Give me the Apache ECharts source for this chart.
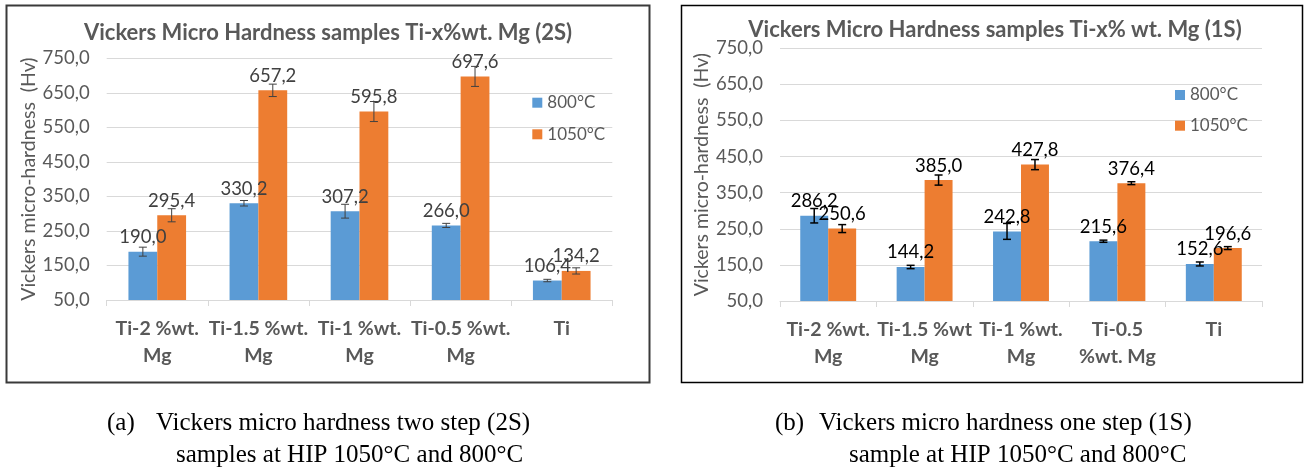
<!DOCTYPE html>
<html>
<head>
<meta charset="utf-8">
<script src="https://cdn.jsdelivr.net/npm/echarts@6/dist/echarts.min.js"></script>
<style>
  html, body { margin: 0; padding: 0; background: #fff; }
  #main { width: 1306px; height: 473px; }
</style>
</head>
<body>
<div id="main"></div>
<script>
// Vickers micro-hardness (Hv) of Ti-x%wt. Mg samples after HIP at 800 °C and 1050 °C
const categories2S = ['Ti-2 %wt.\nMg', 'Ti-1.5 %wt.\nMg', 'Ti-1 %wt.\nMg', 'Ti-0.5 %wt.\nMg', 'Ti'];
const categories1S = ['Ti-2 %wt.\nMg', 'Ti-1.5 %wt\nMg', 'Ti-1 %wt.\nMg', 'Ti-0.5\n%wt. Mg', 'Ti'];

// two step (2S)
const hv800_2S  = [190.0, 330.2, 307.2, 266.0, 106.4];
const hv1050_2S = [295.4, 657.2, 595.8, 697.6, 134.2];
const sd800_2S  = [13, 8, 20, 6, 3.5];
const sd1050_2S = [19, 18, 29, 29, 9];

// one step (1S)
const hv800_1S  = [286.2, 144.2, 242.8, 215.6, 152.6];
const hv1050_1S = [250.6, 385.0, 427.8, 376.4, 196.6];
const sd800_1S  = [20, 4.6, 22, 3, 5.5];
const sd1050_1S = [11, 14, 14, 4, 4];

// value axis: 50,0 … 750,0 every 100
const yMin = 50, yMax = 750, yStep = 100;

const seriesNames = ['800°C', '1050°C'];
const colors = ['#5b9bd5', '#ed7d31'];

const FONT = 'Lato, "Open Sans", sans-serif';
const fmt = v => Number(v).toFixed(1).replace('.', ',');

const chart = echarts.init(document.getElementById('main'), null, { renderer: 'canvas' });

function xAxisFor(idx, cats) {
  return {
    type: 'category', gridIndex: idx, data: cats,
    axisLine: { lineStyle: { color: '#d9d9d9', width: 1 } },
    axisTick: { show: true, length: 6, lineStyle: { color: '#d9d9d9' } },
    axisLabel: {
      interval: 0, margin: 15, color: '#595959', fontFamily: FONT,
      fontWeight: 'bold', fontSize: 19.5, lineHeight: 27
    }
  };
}
function yAxisFor(idx, nameGap) {
  return {
    type: 'value', gridIndex: idx, min: yMin, max: yMax, interval: yStep,
    name: 'Vickers micro-hardness  (Hv)', nameLocation: 'middle', nameGap: nameGap,
    nameTextStyle: { color: '#595959', fontFamily: FONT, fontSize: 19.5 },
    axisLine: { show: false }, axisTick: { show: false },
    axisLabel: { color: '#595959', fontFamily: FONT, fontSize: 18.5, margin: 17, formatter: fmt },
    splitLine: { lineStyle: { color: '#d9d9d9', width: 1 } }
  };
}
function barSeries(idx, name, color, values, gap, labelColor) {
  return {
    type: 'bar', name: name, xAxisIndex: idx, yAxisIndex: idx,
    data: values, barGap: '0%', barCategoryGap: gap,
    itemStyle: { color: color },
    label: {
      show: true, position: 'top', distance: 5, formatter: p => fmt(p.value),
      color: labelColor, fontFamily: FONT, fontSize: 18.5
    },
    z: 2
  };
}
// error bars drawn at the centre of each bar of a pair
function errorSeries(idx, values, errs, side, gapRatio, color, width) {
  return {
    type: 'custom', name: 'err', xAxisIndex: idx, yAxisIndex: idx,
    data: values.map((v, i) => [i, v, errs[i]]),
    z: 5, silent: true,
    renderItem: (params, api) => {
      const i = api.value(0), v = api.value(1), e = api.value(2);
      const band = api.size([1, 0])[0];
      const bw = band * (1 - gapRatio) / 2;
      const x = api.coord([i, v])[0] + side * bw / 2;
      const yt = api.coord([i, v + e])[1];
      const yb = api.coord([i, v - e])[1];
      const cap = 4;
      const st = { stroke: color, lineWidth: width };
      return {
        type: 'group',
        children: [
          { type: 'line', shape: { x1: x, y1: yt, x2: x, y2: yb }, style: st },
          { type: 'line', shape: { x1: x - cap, y1: yt, x2: x + cap, y2: yt }, style: st },
          { type: 'line', shape: { x1: x - cap, y1: yb, x2: x + cap, y2: yb }, style: st }
        ]
      };
    }
  };
}
function legendFor(left, top, gap) {
  return {
    orient: 'vertical', left: left, top: top, itemGap: gap, padding: 0,
    data: seriesNames, icon: 'rect', itemWidth: 10, itemHeight: 10,
    selectedMode: false,
    textStyle: { color: '#595959', fontFamily: FONT, fontSize: 17, lineHeight: 20 }
  };
}
function text(x, y, str, font, color, align) {
  return {
    type: 'text', x: x, y: y, silent: true,
    style: { text: str, font: font, fill: color, align: align || 'left', verticalAlign: 'middle' }
  };
}

const titleFont = 'bold 22px ' + FONT;
const capFont = '25px "Liberation Serif", "Times New Roman", serif';

chart.setOption({
  animation: false,
  backgroundColor: '#fff',
  grid: [
    { left: 106.7, right: 1306 - 612.3, top: 58.3, bottom: 473 - 300 },
    { left: 780, right: 1306 - 1262, top: 48.3, bottom: 473 - 301 }
  ],
  xAxis: [xAxisFor(0, categories2S), xAxisFor(1, categories1S)],
  yAxis: [yAxisFor(0, 68), yAxisFor(1, 64)],
  legend: [legendFor(532.3, 92.7, 11.6), legendFor(1175, 85, 10.7)],
  series: [
    barSeries(0, seriesNames[0], colors[0], hv800_2S, '43%', '#404040'),
    barSeries(0, seriesNames[1], colors[1], hv1050_2S, '43%', '#404040'),
    errorSeries(0, hv800_2S, sd800_2S, -1, 0.43, '#404040', 1),
    errorSeries(0, hv1050_2S, sd1050_2S, 1, 0.43, '#404040', 1),
    barSeries(1, seriesNames[0], colors[0], hv800_1S, '42%', '#000000'),
    barSeries(1, seriesNames[1], colors[1], hv1050_1S, '42%', '#000000'),
    errorSeries(1, hv800_1S, sd800_1S, -1, 0.42, '#000000', 1.5),
    errorSeries(1, hv1050_1S, sd1050_1S, 1, 0.42, '#000000', 1.5)
  ],
  graphic: [
    // panel frames
    { type: 'rect', silent: true, shape: { x: 6.5, y: 5.5, width: 643, height: 377 },
      style: { fill: 'none', stroke: '#3a3a3a', lineWidth: 2 } },
    { type: 'rect', silent: true, shape: { x: 681.5, y: 5.5, width: 621, height: 377 },
      style: { fill: 'none', stroke: '#000', lineWidth: 1.5 } },
    // chart titles
    text(328, 33, 'Vickers Micro Hardness samples Ti-x%wt. Mg (2S)', titleFont, '#595959', 'center'),
    text(995, 30, 'Vickers Micro Hardness samples Ti-x% wt. Mg (1S)', titleFont, '#595959', 'center'),
    // captions
    text(107, 423, '(a)', capFont, '#000'),
    text(156, 423, 'Vickers micro hardness two step (2S)', capFont, '#000'),
    text(176, 455, 'samples at HIP 1050°C and 800°C', capFont, '#000'),
    text(775, 423, '(b)', capFont, '#000'),
    text(819, 423, 'Vickers micro hardness one step (1S)', capFont, '#000'),
    text(849, 455, 'sample at HIP 1050°C and 800°C', capFont, '#000')
  ]
});
</script>
</body>
</html>
